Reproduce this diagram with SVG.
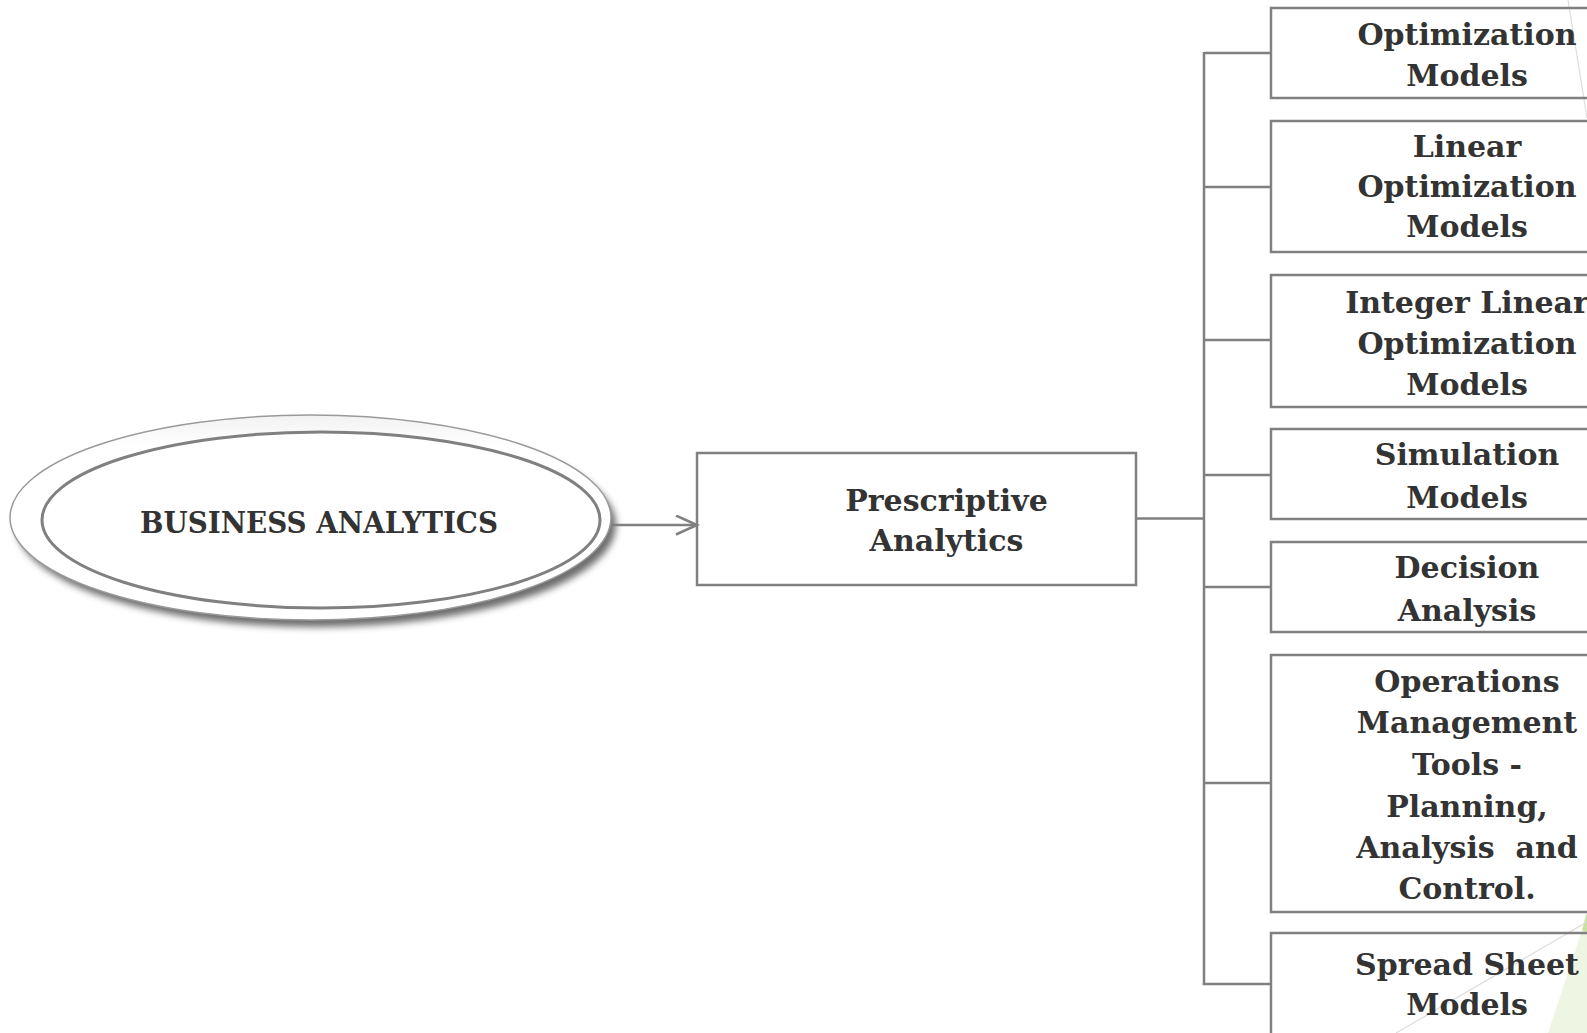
<svg xmlns="http://www.w3.org/2000/svg" width="1587" height="1033" viewBox="0 0 1587 1033">
  <defs>
    <style>
      .lbl { font-family: "DejaVu Serif", "Liberation Serif", serif; font-weight: bold; font-size: 30px; fill: #333333; text-anchor: middle; }
      .box { fill: none; stroke: #808080; stroke-width: 2.5; }
      .wire { fill: none; stroke: #808080; stroke-width: 2.5; }
    </style>
    <marker id="open-arrow" markerWidth="26" markerHeight="24" refX="22" refY="10" orient="auto" markerUnits="userSpaceOnUse">
      <path d="M1,0.5 L22,10 L1,19.5" fill="none" stroke="#808080" stroke-width="2.5"/>
    </marker>
    <filter id="soft-shadow" x="-10%" y="-20%" width="120%" height="140%">
      <feGaussianBlur stdDeviation="3.5"/>
    </filter>
    <linearGradient id="ring" x1="0" y1="0" x2="0" y2="1">
      <stop offset="0" stop-color="#f2f2f2"/>
      <stop offset="0.15" stop-color="#ffffff"/>
      <stop offset="1" stop-color="#ffffff"/>
    </linearGradient>
  </defs>

  <rect width="1587" height="1033" fill="#ffffff"/>

  <!-- slide background accents -->
  <g id="backdrop">
    <line x1="1568" y1="0" x2="1587" y2="118" stroke="#dddddd" stroke-width="1.2"/>
    <polygon points="1587,915 1587,1033 1548,1033" fill="#eef5e2"/>
    <polygon points="1587,912 1587,932 1582,930" fill="#c9e2a4"/>
    <line x1="1587" y1="922" x2="1396" y2="1033" stroke="#dcdcdc" stroke-width="1.2"/>
  </g>

  <!-- root node -->
  <g id="business-analytics">
    <ellipse cx="316" cy="525" rx="300" ry="102" fill="#4a4a4a" opacity="0.8" filter="url(#soft-shadow)"/>
    <ellipse cx="310.5" cy="517.5" rx="300.5" ry="102.5" fill="url(#ring)" stroke="#9a9a9a" stroke-width="1.5"/>
    <ellipse cx="321" cy="520" rx="279" ry="88" fill="#ffffff" stroke="#808080" stroke-width="3"/>
    <text class="lbl" x="319" y="533" font-size="33" textLength="358" lengthAdjust="spacingAndGlyphs">BUSINESS ANALYTICS</text>
  </g>

  <!-- middle node -->
  <g id="prescriptive-analytics">
    <rect class="box" x="697" y="453" width="439" height="132"/>
    <text class="lbl" x="946.5" y="511">Prescriptive</text>
    <text class="lbl" x="946.5" y="551">Analytics</text>
  </g>

  <!-- connectors -->
  <g id="connectors">
    <line class="wire" x1="612" y1="525" x2="697" y2="525" marker-end="url(#open-arrow)"/>
    <line class="wire" x1="1136" y1="518.5" x2="1204" y2="518.5"/>
    <line class="wire" x1="1204" y1="52" x2="1204" y2="985"/>
    <line class="wire" x1="1204" y1="53" x2="1271" y2="53"/>
    <line class="wire" x1="1204" y1="187" x2="1271" y2="187"/>
    <line class="wire" x1="1204" y1="340" x2="1271" y2="340"/>
    <line class="wire" x1="1204" y1="475" x2="1271" y2="475"/>
    <line class="wire" x1="1204" y1="587" x2="1271" y2="587"/>
    <line class="wire" x1="1204" y1="783" x2="1271" y2="783"/>
    <line class="wire" x1="1202.75" y1="984" x2="1271" y2="984"/>
  </g>

  <!-- leaf nodes -->
  <g id="optimization-models">
    <rect class="box" x="1271" y="8" width="390" height="90"/>
    <text class="lbl" x="1467" y="45">Optimization</text>
    <text class="lbl" x="1467" y="86">Models</text>
  </g>
  <g id="linear-optimization-models">
    <rect class="box" x="1271" y="121" width="390" height="131"/>
    <text class="lbl" x="1467" y="157">Linear</text>
    <text class="lbl" x="1467" y="197">Optimization</text>
    <text class="lbl" x="1467" y="237">Models</text>
  </g>
  <g id="integer-linear-optimization-models">
    <rect class="box" x="1271" y="275" width="390" height="132"/>
    <text class="lbl" x="1467" y="313">Integer Linear</text>
    <text class="lbl" x="1467" y="354">Optimization</text>
    <text class="lbl" x="1467" y="395">Models</text>
  </g>
  <g id="simulation-models">
    <rect class="box" x="1271" y="429" width="390" height="90"/>
    <text class="lbl" x="1467" y="465">Simulation</text>
    <text class="lbl" x="1467" y="508">Models</text>
  </g>
  <g id="decision-analysis">
    <rect class="box" x="1271" y="542" width="390" height="90"/>
    <text class="lbl" x="1467" y="578">Decision</text>
    <text class="lbl" x="1467" y="621">Analysis</text>
  </g>
  <g id="operations-management-tools">
    <rect class="box" x="1271" y="655" width="390" height="257"/>
    <text class="lbl" x="1467" y="692">Operations</text>
    <text class="lbl" x="1467" y="733">Management</text>
    <text class="lbl" x="1467" y="775">Tools -</text>
    <text class="lbl" x="1467" y="817">Planning,</text>
    <text class="lbl" x="1467" y="858" xml:space="preserve">Analysis  and</text>
    <text class="lbl" x="1467" y="899">Control.</text>
  </g>
  <g id="spread-sheet-models">
    <rect class="box" x="1271" y="933" width="390" height="140"/>
    <text class="lbl" x="1467" y="975">Spread Sheet</text>
    <text class="lbl" x="1467" y="1015">Models</text>
  </g>
</svg>
